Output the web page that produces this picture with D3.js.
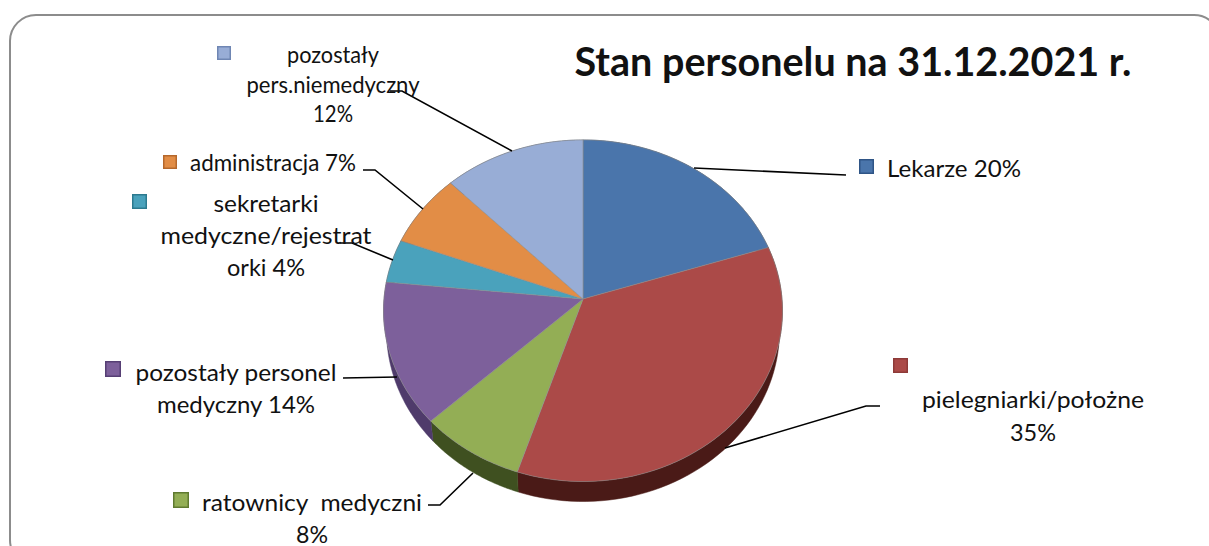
<!DOCTYPE html>
<html><head><meta charset="utf-8">
<script src="https://cdn.jsdelivr.net/npm/d3@7/dist/d3.min.js"></script>
<style>html,body{margin:0;padding:0;background:#fff;overflow:hidden}text{font-family:Lato,"Open Sans",sans-serif;fill:#111}</style>
</head><body>
<svg id="c" width="1209" height="546"></svg>
<script>
const titleText = "Stan personelu na 31.12.2021 r.";
const categories = ["Lekarze","pielegniarki/położne","ratownicy  medyczni","pozostały personel medyczny","sekretarki medyczne/rejestratorki","administracja","pozostały pers.niemedyczny"];
const values = [20,35,8,13.6,4.1,7,12.3];
const topColors = ["#4a75ab","#ab4a48","#93ae55","#7d609b","#4aa2bc","#e28d46","#98add6"];
const sideColors = ["#2c4566","#4a1a17","#3f5020","#4f3b6b","#2b6374","#8a5226","#5b6880"];
const legendEdges = ["#2f5586","#8e3a38","#5f7a30","#563f74","#2c7a8f","#b5682c","#6f86b3"];
const labelLines = [
  ["Lekarze 20%"],
  ["pielegniarki/położne","35%"],
  ["ratownicy  medyczni","8%"],
  ["pozostały personel","medyczny 14%"],
  ["sekretarki","medyczne/rejestrat","orki 4%"],
  ["administracja 7%"],
  ["pozostały","pers.niemedyczny","12%"]
];
// layout: swatch [x,y], text anchor x, first baseline, line step, fitted line widths
const labelLayout = [
  {sx:859,sy:159,sz:15,x:954,y:177,dy:0,w:[134]},
  {sx:893,sy:358,sz:15,x:1033,y:408,dy:33,w:[222,46]},
  {sx:173,sy:492,sz:16,x:312,y:511,dy:32,w:[220,32]},
  {sx:105,sy:361,sz:16,x:236,y:381,dy:32,w:[201,158]},
  {sx:132,sy:194,sz:15,x:266,y:212,dy:32,w:[105,211,78]},
  {sx:163,sy:155,sz:14,x:273,y:171,dy:0,w:[166]},
  {sx:217,sy:46,sz:14,x:333,y:63,dy:29.5,w:[92,173,40]}
];
const leaders = [
  [[694,168],[846,175]],
  [[725,448],[866,406],[880,406]],
  [[473,473],[440,505],[428,505]],
  [[397,377],[343,378]],
  [[393,260],[352,243],[340,243]],
  [[423,209],[375,170],[363,170]],
  [[512,151],[402,91],[390,91]]
];

const svg = d3.select("#c");
svg.append("rect").attr("x",10).attr("y",15).attr("width",1210).attr("height",551)
  .attr("rx",26).attr("fill","#fff").attr("stroke","#8c8c8c").attr("stroke-width",2);

// perspective projection of a tilted disc
const apex = {x:583,y:299}, k = 0.0687;
const sx = d3.scaleLinear().domain([-1,1]).range([apex.x-199,apex.x+199]);
const sy = d3.scaleLinear().domain([-1,1]).range([apex.y-170,apex.y+170]);
const sideScaleX = 0.985, sideOff = 20;
const proj = a => { const u=Math.sin(a), v=-Math.cos(a), w=1-k*v; return [sx(u/w), sy(v/w)]; };
const projLow = a => { const p=proj(a); return [apex.x+(p[0]-apex.x)*sideScaleX, p[1]+sideOff]; };

const pie = d3.pie().sort(null).value(d=>d)(values);
const line = d3.line();
const samples = d => d3.range(0,61).map(i=>d.startAngle+(d.endAngle-d.startAngle)*i/60);

const side = svg.append("g");
pie.forEach((d,i)=>{
  const s = samples(d);
  side.append("path")
    .attr("d", line([...s.map(proj), ...s.slice().reverse().map(projLow)])+"Z")
    .attr("fill",sideColors[i]).attr("stroke",sideColors[i]).attr("stroke-width",0.5);
});
const top_ = svg.append("g");
pie.forEach((d,i)=>{
  const s = samples(d);
  top_.append("path")
    .attr("d", line([[apex.x,apex.y], ...s.map(proj)])+"Z")
    .attr("fill",topColors[i]).attr("stroke","#8a8a8a").attr("stroke-opacity",0.55).attr("stroke-width",1);
});

const lg = svg.append("g").attr("fill","none").attr("stroke","#000").attr("stroke-width",1.6);
leaders.forEach(l=>lg.append("path").attr("d",line(l)));

labelLines.forEach((lines,i)=>{
  const L = labelLayout[i];
  svg.append("rect").attr("x",L.sx+0.75).attr("y",L.sy+0.75).attr("width",L.sz-1.5).attr("height",L.sz-1.5)
    .attr("fill",topColors[i]).attr("stroke",legendEdges[i]).attr("stroke-width",1.5);
  lines.forEach((t,j)=>{
    svg.append("text").attr("x",L.x).attr("y",L.y+j*L.dy).attr("text-anchor","middle")
      .attr("font-size",23).attr("textLength",L.w[j]).attr("lengthAdjust","spacingAndGlyphs")
      .style("white-space","pre").text(t);
  });
});
svg.append("text").attr("x",853).attr("y",76).attr("text-anchor","middle")
  .attr("font-size",39.5).attr("font-weight",700).text(titleText);
</script>
</body></html>
